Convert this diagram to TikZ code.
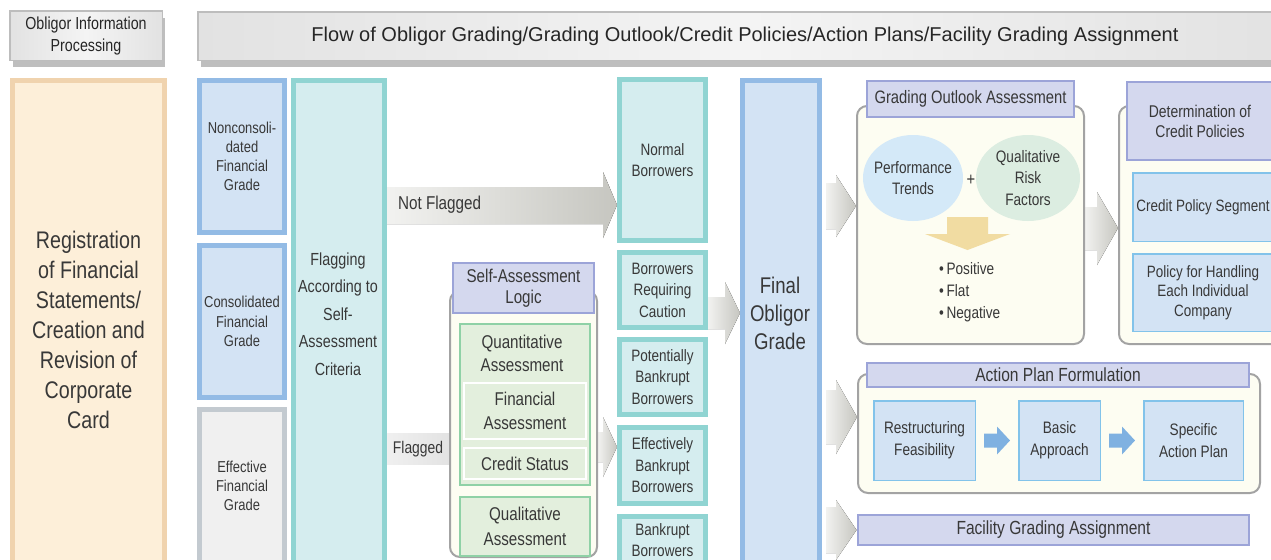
\documentclass[tikz,border=0pt]{standalone}
\usepackage{fontspec}
\setmainfont{Liberation Sans}
\newfontfamily\narrowfont[FakeStretch=0.82]{Liberation Sans}
\usetikzlibrary{shapes.geometric,shadows,backgrounds,calc}
\definecolor{txtgray}{HTML}{383838}
\definecolor{headline}{HTML}{BDBDBD}
\definecolor{headl}{HTML}{E2E2E2}
\definecolor{headr}{HTML}{F4F4F4}
\definecolor{shadowc}{HTML}{BEBEBE}
\definecolor{orangeline}{HTML}{F0D3AE}
\definecolor{orangefill}{HTML}{FDEFD9}
\definecolor{gradeline}{HTML}{93BBE5}
\definecolor{gradefill}{HTML}{D3E3F4}
\definecolor{greyline}{HTML}{C3CAD0}
\definecolor{greyfill}{HTML}{F0F0F0}
\definecolor{tealline}{HTML}{90D4D2}
\definecolor{tealfill}{HTML}{D5EDEF}
\definecolor{greenline}{HTML}{8FD1A6}
\definecolor{greenfill}{HTML}{E3EFDD}
\definecolor{titleline}{HTML}{9CA4D8}
\definecolor{titlefill}{HTML}{D4D8EE}
\definecolor{panelline}{HTML}{A3A3A3}
\definecolor{panelfill}{HTML}{FDFDF2}
\definecolor{innerline}{HTML}{82C3EA}
\definecolor{arrowl}{HTML}{F2F2F0}
\definecolor{arrowr}{HTML}{C6C6C0}
\definecolor{tanfill}{HTML}{F1DCA2}
\definecolor{bluearrow}{HTML}{7FB1E1}
\definecolor{perffill}{HTML}{D4E9F8}
\definecolor{qriskfill}{HTML}{DCEDE1}
\newcommand\fsz[2]{\narrowfont\fontsize{#1}{#2}\selectfont}

\begin{document}
\begin{tikzpicture}[x=0.5pt,y=-0.5pt,
  plainbox/.style={draw,rectangle,align=center,text=txtgray,inner sep=0pt},
  wh/.style 2 args={minimum width={(#1)*0.5pt},minimum height={(#2)*0.5pt}},
  headbox/.style={plainbox,line width=0.75pt,draw=headline,left color=headl,right color=headl,middle color=headr,text=black!85,
    drop shadow={shadow xshift=1.5pt,shadow yshift=-3.5pt,fill=shadowc,opacity=1}},
  regbox/.style={plainbox,line width=2.5pt,draw=orangeline,fill=orangefill,font=\fsz{12}{15}},
  grade/.style={plainbox,line width=2.5pt,draw=gradeline,fill=gradefill,font=\fsz{7.9}{9.6}},
  tealbox/.style={plainbox,line width=2.5pt,draw=tealline,fill=tealfill,font=\fsz{8.25}{10.75}},
  greenbox/.style={plainbox,line width=1pt,draw=greenline,fill=greenfill,font=\fsz{9.25}{12.25}},
  titlebox/.style={plainbox,line width=1.2pt,draw=titleline,fill=titlefill},
  innerbox/.style={plainbox,line width=0.75pt,draw=innerline,fill=gradefill,font=\fsz{8.2}{9.8}},
  panel/.style={draw=panelline,line width=1pt,fill=panelfill,rounded corners=5pt,rectangle,inner sep=0pt},
  bubble/.style={ellipse,inner sep=-2pt,align=center,text=txtgray,font=\fsz{8.3}{10.9}},
  label/.style={text=txtgray,align=center},
  greyarrow/.style={left color=arrowl,right color=arrowr}]
\useasboundingbox (0,0) rectangle (1271,559);

\node[headbox,wh={152.5}{49.5},font=\fsz{8.7}{11}] (infohead) at (86,35.5) {Obligor Information\\Processing};
\node[headbox,wh={1094.5}{48.5},font=\fontsize{10}{12}\selectfont] (flowhead) at (745,36) {Flow of Obligor Grading/Grading Outlook/Credit Policies/Action Plans/Facility Grading Assignment};

\node[regbox,wh={152}{499}] (register) at (88.5,330) {Registration\\of Financial\\Statements/\\Creation and\\Revision of\\Corporate\\Card};

\node[grade,wh={85}{152}] (noncons) at (242,156.5) {Nonconsoli-\\dated\\Financial\\Grade};
\node[grade,wh={85}{152}] (cons) at (242,321.5) {Consolidated\\Financial\\Grade};
\node[grade,draw=greyline,fill=greyfill,wh={85}{153}] (effective) at (242,486) {Effective\\Financial\\Grade};

\node[tealbox,wh={91}{497}] (flag) at (339,329) {};
\node[label,font=\fsz{8.75}{13.75}] (flagtxt) at (338,314) {Flagging\\According to\\Self-\\Assessment\\Criteria};

\node[panel,wh={147}{266}] (salogic) at (523.5,424) {};
\node[titlebox,wh={140.5}{49.5},font=\fsz{9.25}{10.5}] (satitle) at (523.5,288) {Self-Assessment\\Logic};
\node[greenbox,wh={130}{161}] (quant) at (525,404.5) {};
\node[label,font=\fsz{9.25}{11.5}] (quanttxt) at (522,353.5) {Quantitative\\Assessment};
\node[greenbox,draw=white,wh={122}{56}] (finass) at (525,411) {Financial\\Assessment};
\node[greenbox,draw=white,wh={122}{31}] (credstat) at (525,463.5) {Credit Status};
\node[greenbox,wh={130}{59}] (qual) at (525,526.5) {Qualitative\\Assessment};

\node[tealbox,wh={86}{161}] (normal) at (662.5,160) {Normal\\Borrowers};
\node[tealbox,wh={86}{75}] (caution) at (662.5,290) {Borrowers\\Requiring\\Caution};
\node[tealbox,wh={86}{75}] (potbk) at (662.5,377) {Potentially\\Bankrupt\\Borrowers};
\node[tealbox,wh={86}{76}] (effbk) at (662.5,465.5) {Effectively\\Bankrupt\\Borrowers};
\node[tealbox,wh={86}{47}] (bankrupt) at (662.5,540) {Bankrupt\\Borrowers};

\node[grade,wh={77}{497}] (final) at (781,329) {};
\node[label,font=\fsz{11.35}{14}] (finaltxt) at (780,313) {Final\\Obligor\\Grade};

\node[panel,wh={227}{238}] (outlook) at (970.5,225) {};
\node[titlebox,wh={206.5}{35.5},font=\fsz{9}{11}] (ottitle) at (970.5,99) {Grading Outlook Assessment};
\node[bubble,fill=perffill,wh={100}{86}] (perf) at (913,178) {Performance\\Trends};
\node[bubble,fill=qriskfill,wh={104}{86}] (qrisk) at (1028,178) {Qualitative\\Risk\\Factors};
\node[label,font=\fsz{9}{11}] (plus) at (971,180) {+};
\fill[tanfill] (947,217) -- (988,217) -- (988,234) -- (1010,234) -- (967.5,250) -- (925,234) -- (947,234) -- cycle;
\node[label,anchor=west,align=left,font=\fsz{8.3}{11}] (trend) at (932,292) {•\,Positive\\•\,Flat\\•\,Negative};

\node[panel,wh={170}{238}] (credpol) at (1204,225) {};
\node[titlebox,wh={145.5}{77.5},font=\fsz{8.5}{10}] (cptitle) at (1200,121) {Determination of\\Credit Policies};
\node[innerbox,wh={140.5}{68.5}] (segment) at (1203,207) {Credit Policy Segment};
\node[innerbox,wh={140.5}{77.5}] (handling) at (1203,292.5) {Policy for Handling\\Each Individual\\Company};

\node[panel,wh={402}{119}] (action) at (1059,433.5) {};
\node[titlebox,wh={381.5}{23.5},font=\fsz{9.5}{11}] (actitle) at (1058,375) {Action Plan Formulation};
\node[innerbox,wh={101.5}{79.5},font=\fsz{8.3}{11}] (restr) at (924.5,440.5) {Restructuring\\Feasibility};
\node[innerbox,wh={81.5}{79.5},font=\fsz{8.3}{11}] (basic) at (1059.5,440.5) {Basic\\Approach};
\node[innerbox,wh={99.5}{79.5},font=\fsz{8.3}{11}] (specific) at (1193.5,440.5) {Specific\\Action Plan};
\fill[bluearrow] ($(restr.east)+(8,-7)$) -- ($(basic.west)+(-21,-7)$) -- ($(basic.west)+(-21,-14)$) -- ($(basic.west)+(-8,0)$) -- ($(basic.west)+(-21,14)$) -- ($(basic.west)+(-21,7)$) -- ($(restr.east)+(8,7)$) -- cycle;
\fill[bluearrow] ($(basic.east)+(8,-7)$) -- ($(specific.west)+(-21,-7)$) -- ($(specific.west)+(-21,-14)$) -- ($(specific.west)+(-8,0)$) -- ($(specific.west)+(-21,14)$) -- ($(specific.west)+(-21,7)$) -- ($(basic.east)+(8,7)$) -- cycle;

\node[titlebox,wh={391.5}{29.5},font=\fsz{9.5}{11}] (facility) at (1053.5,530) {Facility Grading Assignment};

\node[label,anchor=west,font=\fsz{9.3}{11}] (notflag) at (391,205) {Not Flagged};
\node[label,font=\fsz{8.45}{10}] (flagged) at (418,449) {Flagged};

\begin{scope}[on background layer]
\fill[greyarrow] (flag.east |- 0,187) -- (603,187) -- (603,172) -- (normal.west |- 0,205) -- (603,238) -- (603,224) -- (flag.east |- 0,224) -- cycle;
\fill[left color=black!6,right color=black!11] (flag.east |- 0,433) rectangle (salogic.west |- 0,464);
\fill[greyarrow] (salogic.east |- 0,432) -- (603,432) -- (603,417) -- (effbk.west |- 0,447) -- (603,477) -- (603,462) -- (salogic.east |- 0,462) -- cycle;
\fill[greyarrow] (caution.east |- 0,297) -- (725,297) -- (725,282) -- (final.west |- 0,313) -- (725,344) -- (725,329) -- (caution.east |- 0,329) -- cycle;
\fill[greyarrow] (826,183) -- (836,183) -- (836,175) -- (outlook.west |- 0,206) -- (836,237) -- (836,229) -- (826,229) -- cycle;
\fill[greyarrow] (826,390) -- (836,390) -- (836,380) -- (action.west |- 0,417) -- (836,454) -- (836,444) -- (826,444) -- cycle;
\fill[greyarrow] (826,507) -- (836,507) -- (836,500) -- (facility.west |- 0,530) -- (836,560) -- (836,553) -- (826,553) -- cycle;
\fill[greyarrow] (outlook.east |- 0,207) -- (1097,207) -- (1097,192) -- (credpol.west |- 0,228) -- (1097,265) -- (1097,250) -- (outlook.east |- 0,250) -- cycle;
\end{scope}
\end{tikzpicture}
\end{document}
